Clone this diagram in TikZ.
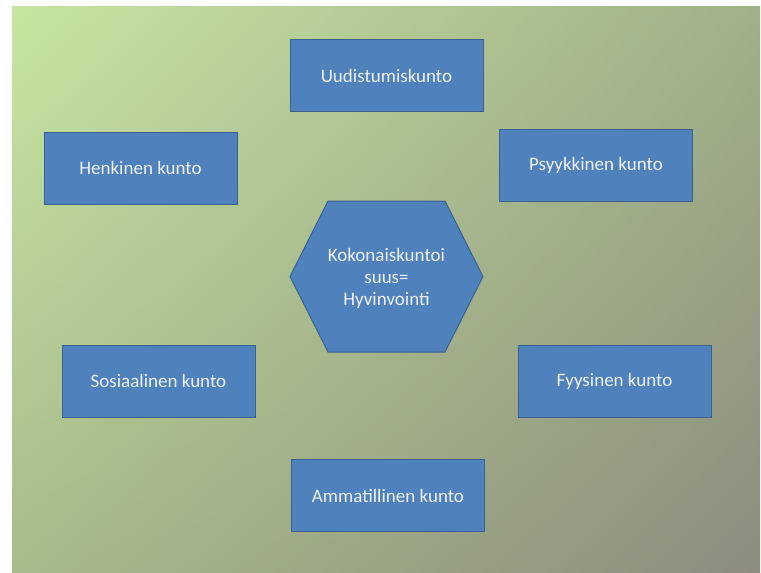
\documentclass[tikz,border=0pt]{standalone}
\usepackage{fontspec}
\setmainfont{Carlito}
\usetikzlibrary{shadings}
\definecolor{bgTL}{HTML}{C6E5A2}
\definecolor{bgTR}{HTML}{A0B088}
\definecolor{bgBL}{HTML}{A7BB8B}
\definecolor{bgBR}{HTML}{8D8C7E}
\definecolor{boxfill}{HTML}{4F81BD}
\definecolor{boxline}{HTML}{3A6190}
\definecolor{boxtext}{HTML}{EEF2F8}
\begin{document}
\begin{tikzpicture}[x=1pt,y=-1pt,
  kunto/.style={rectangle, draw=boxline, fill=boxfill, line width=1pt,
    minimum width=193pt, minimum height=72pt, inner sep=2pt,
    text=boxtext, font=\fontsize{19}{21}\selectfont},
  hubtext/.style={text=boxtext, align=center, font=\fontsize{19}{22}\selectfont}]
  \useasboundingbox (0,0) rectangle (761,573);
  % gradient backdrop
  \shade[upper left=bgTL, upper right=bgTR, lower left=bgBL, lower right=bgBR]
    (12,6) rectangle (760,573);

  % central hexagon
  \coordinate (h1) at (290,276.5);
  \coordinate (h2) at (328,201);
  \coordinate (h3) at (445,201);
  \coordinate (h4) at (483,276.5);
  \coordinate (h5) at (445,352);
  \coordinate (h6) at (328,352);
  \draw[draw=boxline, fill=boxfill, line width=1pt, line join=miter]
    (h1) -- (h2) -- (h3) -- (h4) -- (h5) -- (h6) -- cycle;
  \node[hubtext] (hub) at (386.5,278) {Kokonaiskuntoi\\suus=\\Hyvinvointi};

  % surrounding boxes
  \node[kunto] (uud)  at (386.5,75.5) {Uudistumiskunto};
  \node[kunto] (henk) at (140.5,168)  {Henkinen kunto};
  \node[kunto] (psyy) at (596,165.5)  {Psyykkinen kunto};
  \node[kunto] (sos)  at (158.5,381)  {Sosiaalinen kunto};
  \node[kunto] (fyys) at (614.5,381)  {Fyysinen kunto};
  \node[kunto] (amm)  at (388,495.5)  {Ammatillinen kunto};
\end{tikzpicture}
\end{document}
